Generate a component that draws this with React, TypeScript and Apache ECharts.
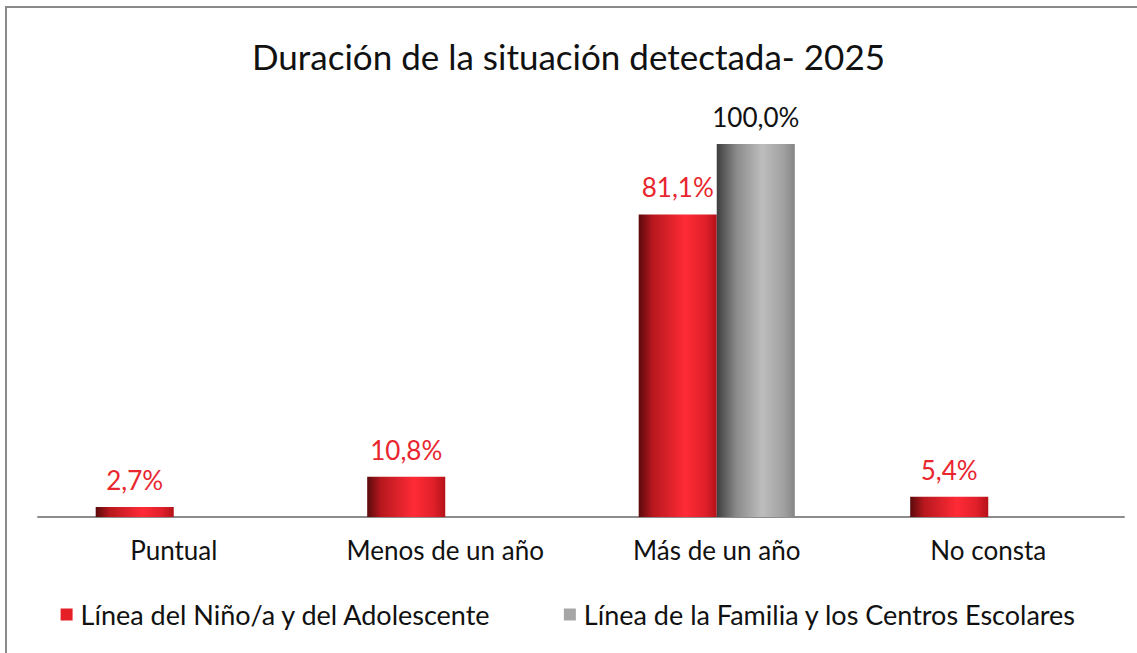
import React, { useEffect, useRef } from "react";
import * as echarts from "echarts";

const titleText = "Duración de la situación detectada- 2025";
const categories = ["Puntual", "Menos de un año", "Más de un año", "No consta"];
const seriesNames = ["Línea del Niño/a y del Adolescente", "Línea de la Familia y los Centros Escolares"];
const ninoValues: (number | null)[] = [2.7, 10.8, 81.1, 5.4];
const familiaValues: (number | null)[] = [null, null, 100.0, null];

const FONT = "Lato";

const redGrad = new echarts.graphic.LinearGradient(0, 0, 1, 0, [
  { offset: 0, color: "#5a0a0c" },
  { offset: 0.18, color: "#b8181e" },
  { offset: 0.6, color: "#ff2b36" },
  { offset: 0.85, color: "#e0202a" },
  { offset: 1, color: "#b51219" },
]);
const greyGrad = new echarts.graphic.LinearGradient(0, 0, 1, 0, [
  { offset: 0, color: "#3e3e3e" },
  { offset: 0.25, color: "#8a8a8a" },
  { offset: 0.58, color: "#bdbdbd" },
  { offset: 0.85, color: "#a2a2a2" },
  { offset: 1, color: "#858585" },
]);

const fmt = (p: any) =>
  p.value == null ? "" : Number(p.value).toFixed(1).replace(".", ",") + "%";

export default function App() {
  const ref = useRef<HTMLDivElement>(null);
  useEffect(() => {
    if (!ref.current) return;
    const chart = echarts.init(ref.current, undefined, { renderer: "svg" });
    chart.setOption({
      animation: false,
      backgroundColor: "#ffffff",
      textStyle: { fontFamily: FONT },
      title: {
        text: titleText,
        left: "center",
        top: 33,
        textStyle: { fontFamily: FONT, fontSize: 35, fontWeight: "normal", color: "#111" },
      },
      graphic: [
        {
          type: "rect",
          shape: { x: 6, y: 7, width: 1200, height: 700 },
          style: { fill: "none", stroke: "#8a8a8a", lineWidth: 2 },
          silent: true,
        },
      ],
      legend: {
        bottom: 20,
        left: "center",
        itemWidth: 12,
        itemHeight: 12,
        itemGap: 72,
        icon: "rect",
        textStyle: { fontFamily: FONT, fontSize: 27, color: "#111", padding: [0, 0, 0, 3] },
        data: [
          { name: seriesNames[0], itemStyle: { color: "#e41f26" } },
          { name: seriesNames[1], itemStyle: { color: "#a6a6a6" } },
        ],
      },
      grid: { left: 38, right: 13, top: 144, bottom: 136 },
      xAxis: {
        type: "category",
        data: categories,
        axisLine: { lineStyle: { color: "#8c8c8c", width: 2 } },
        axisTick: { length: 6, lineStyle: { color: "#8c8c8c", width: 2 } },
        axisLabel: { fontFamily: FONT, fontSize: 26, color: "#111", margin: 20 },
      },
      yAxis: {
        type: "value",
        min: 0,
        max: 100,
        show: false,
        splitLine: { show: false },
      },
      series: [
        {
          name: seriesNames[0],
          type: "bar",
          data: ninoValues,
          barGap: "0%",
          barCategoryGap: "42.5%",
          itemStyle: { color: redGrad },
          label: {
            show: true,
            position: "top",
            distance: 14,
            formatter: fmt,
            fontFamily: FONT,
            fontSize: 26,
            color: "#e8262e",
          },
        },
        {
          name: seriesNames[1],
          type: "bar",
          data: familiaValues,
          barGap: "0%",
          barCategoryGap: "42.5%",
          itemStyle: { color: greyGrad },
          label: {
            show: true,
            position: "top",
            distance: 14,
            formatter: fmt,
            fontFamily: FONT,
            fontSize: 26,
            color: "#111",
          },
        },
      ],
    });
    return () => chart.dispose();
  }, []);
  return (
    <div
      ref={ref}
      style={{ position: "fixed", left: 0, top: 0, width: 1137, height: 653 }}
    />
  );
}
